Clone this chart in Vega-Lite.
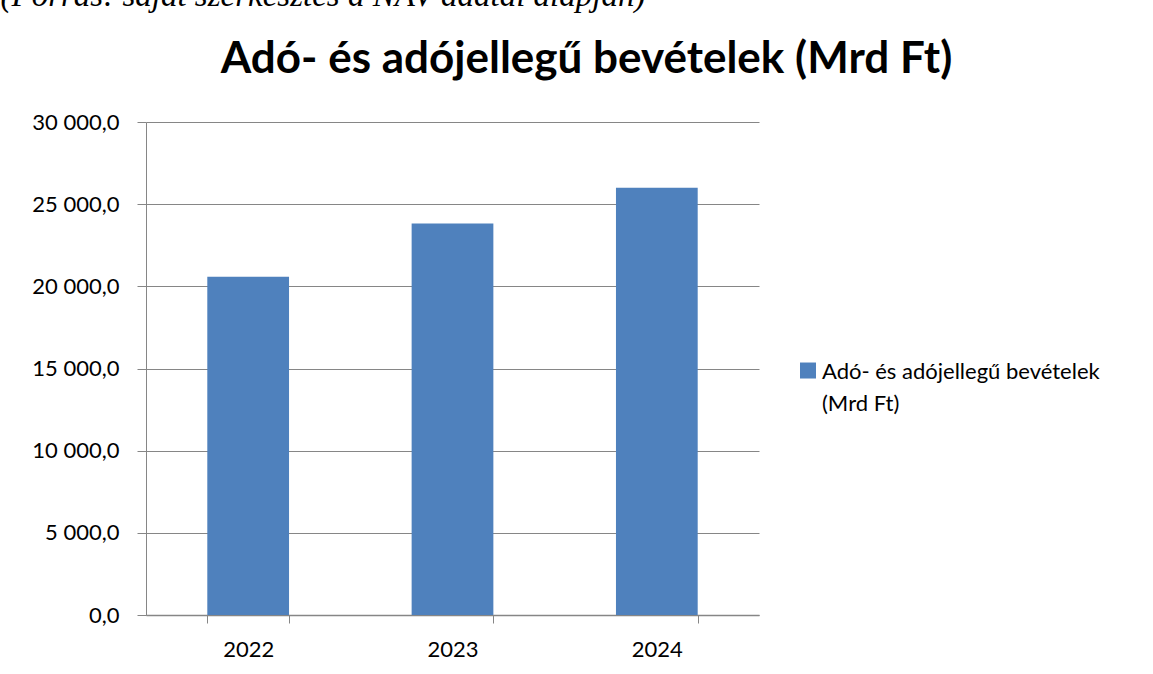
{
  "$schema": "https://vega.github.io/schema/vega-lite/v6.json",
  "autosize": {"type": "none"},
  "padding": {"left": 146, "top": 122, "right": 394, "bottom": 59},
  "width": 613,
  "height": 493,
  "background": "white",
  "config": {
    "view": {"stroke": null},
    "font": "Lato",
    "locale": {"number": {"decimal": ",", "thousands": " ", "grouping": [3], "currency": ["", ""]}},
    "style": {"guide-label": {"lineHeight": 32}}
  },
  "title": {
    "text": "Adó- és adójellegű bevételek (Mrd Ft)",
    "font": "Lato",
    "fontSize": 44,
    "fontWeight": "bold",
    "color": "black",
    "anchor": "middle",
    "frame": "group",
    "baseline": "alphabetic",
    "dx": 134,
    "dy": 142
  },
  "data": {
    "values": [
      {"year": "2022", "value": 20580, "series": "Adó- és adójellegű bevételek (Mrd Ft)"},
      {"year": "2023", "value": 23820, "series": "Adó- és adójellegű bevételek (Mrd Ft)"},
      {"year": "2024", "value": 26000, "series": "Adó- és adójellegű bevételek (Mrd Ft)"}
    ]
  },
  "mark": {"type": "bar"},
  "encoding": {
    "x": {
      "field": "year",
      "type": "nominal",
      "scale": {"paddingInner": 0.6, "paddingOuter": 0.3},
      "axis": {
        "title": null,
        "labelAngle": 0,
        "labelFont": "Lato",
        "labelFontSize": 22,
        "labelColor": "black",
        "labelPadding": 16,
        "tickBand": "extent",
        "tickSize": 8,
        "tickColor": "#868686",
        "domainColor": "#868686",
        "domainWidth": 1.3,
        "grid": false
      }
    },
    "y": {
      "field": "value",
      "type": "quantitative",
      "scale": {"domain": [0, 30000], "nice": false},
      "axis": {
        "values": [0, 5000, 10000, 15000, 20000, 25000, 30000],
        "format": ",.1f",
        "labelFont": "Lato",
        "labelFontSize": 22,
        "labelColor": "black",
        "labelPadding": 18,
        "tickSize": 9,
        "tickColor": "#868686",
        "domainColor": "#868686",
        "gridColor": "#868686",
        "gridOpacity": 1,
        "title": "(Forrás: saját szerkesztés a NAV adatai alapján)",
        "titleFont": "Liberation Serif",
        "titleFontStyle": "italic",
        "titleFontWeight": "normal",
        "titleFontSize": 33,
        "titleColor": "black",
        "titleAngle": 0,
        "titleAlign": "left",
        "titleBaseline": "alphabetic",
        "titleX": -146,
        "titleY": -117
      }
    },
    "color": {
      "field": "series",
      "type": "nominal",
      "scale": {"range": ["#4F81BD"]},
      "legend": {
        "title": null,
        "orient": "none",
        "legendX": 651,
        "legendY": 246,
        "padding": 0,
        "symbolType": "M-1,-2.06H1V-0.06H-1Z",
        "symbolSize": 256,
        "symbolStrokeWidth": 0,
        "symbolOpacity": 1,
        "labelFont": "Lato",
        "labelFontSize": 22,
        "labelColor": "black",
        "labelOffset": 3,
        "labelLimit": 0,
        "labelBaseline": "alphabetic",
        "labelExpr": "['Adó- és adójellegű bevételek', '(Mrd Ft)']"
      }
    }
  }
}
